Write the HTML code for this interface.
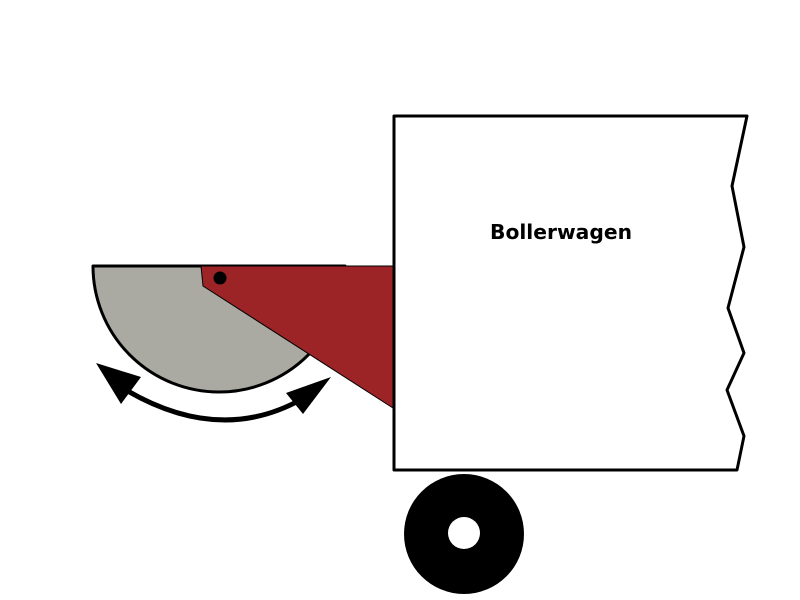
<!DOCTYPE html>
<html><head><style>html,body{margin:0;padding:0;background:#fff;}svg{display:block}</style></head>
<body>
<svg width="800" height="600" viewBox="0 0 800 600" xmlns="http://www.w3.org/2000/svg">
<path d="M93,266 L345,266 A126,126 0 0 1 93,266 Z" fill="#aaaaa2" stroke="#000" stroke-width="3" stroke-linejoin="round"/>
<polygon points="201,266 393,266 393,408 203,286" fill="#9c2427" stroke="#000" stroke-width="1"/>
<circle cx="220" cy="278" r="6.5" fill="#000"/>
<path d="M126,390 Q220,445 302,399" fill="none" stroke="#000" stroke-width="5"/>
<polygon points="96,363 141,377 121,404" fill="#000"/>
<polygon points="331,377 286,393 303,414" fill="#000"/>
<path d="M394,116 L747,116 L732,186 L744,247 L728,308 L744,353 L727,390 L744,436 L737,470 L394,470 Z" fill="#fff" stroke="#000" stroke-width="3" stroke-linejoin="round"/>
<text x="490" y="239" font-family="DejaVu Sans, Liberation Sans, sans-serif" font-weight="bold" font-size="20" textLength="142" lengthAdjust="spacingAndGlyphs">Bollerwagen</text>
<circle cx="464" cy="534" r="60" fill="#000"/>
<circle cx="464" cy="533" r="16" fill="#fff"/>
</svg>
</body></html>
